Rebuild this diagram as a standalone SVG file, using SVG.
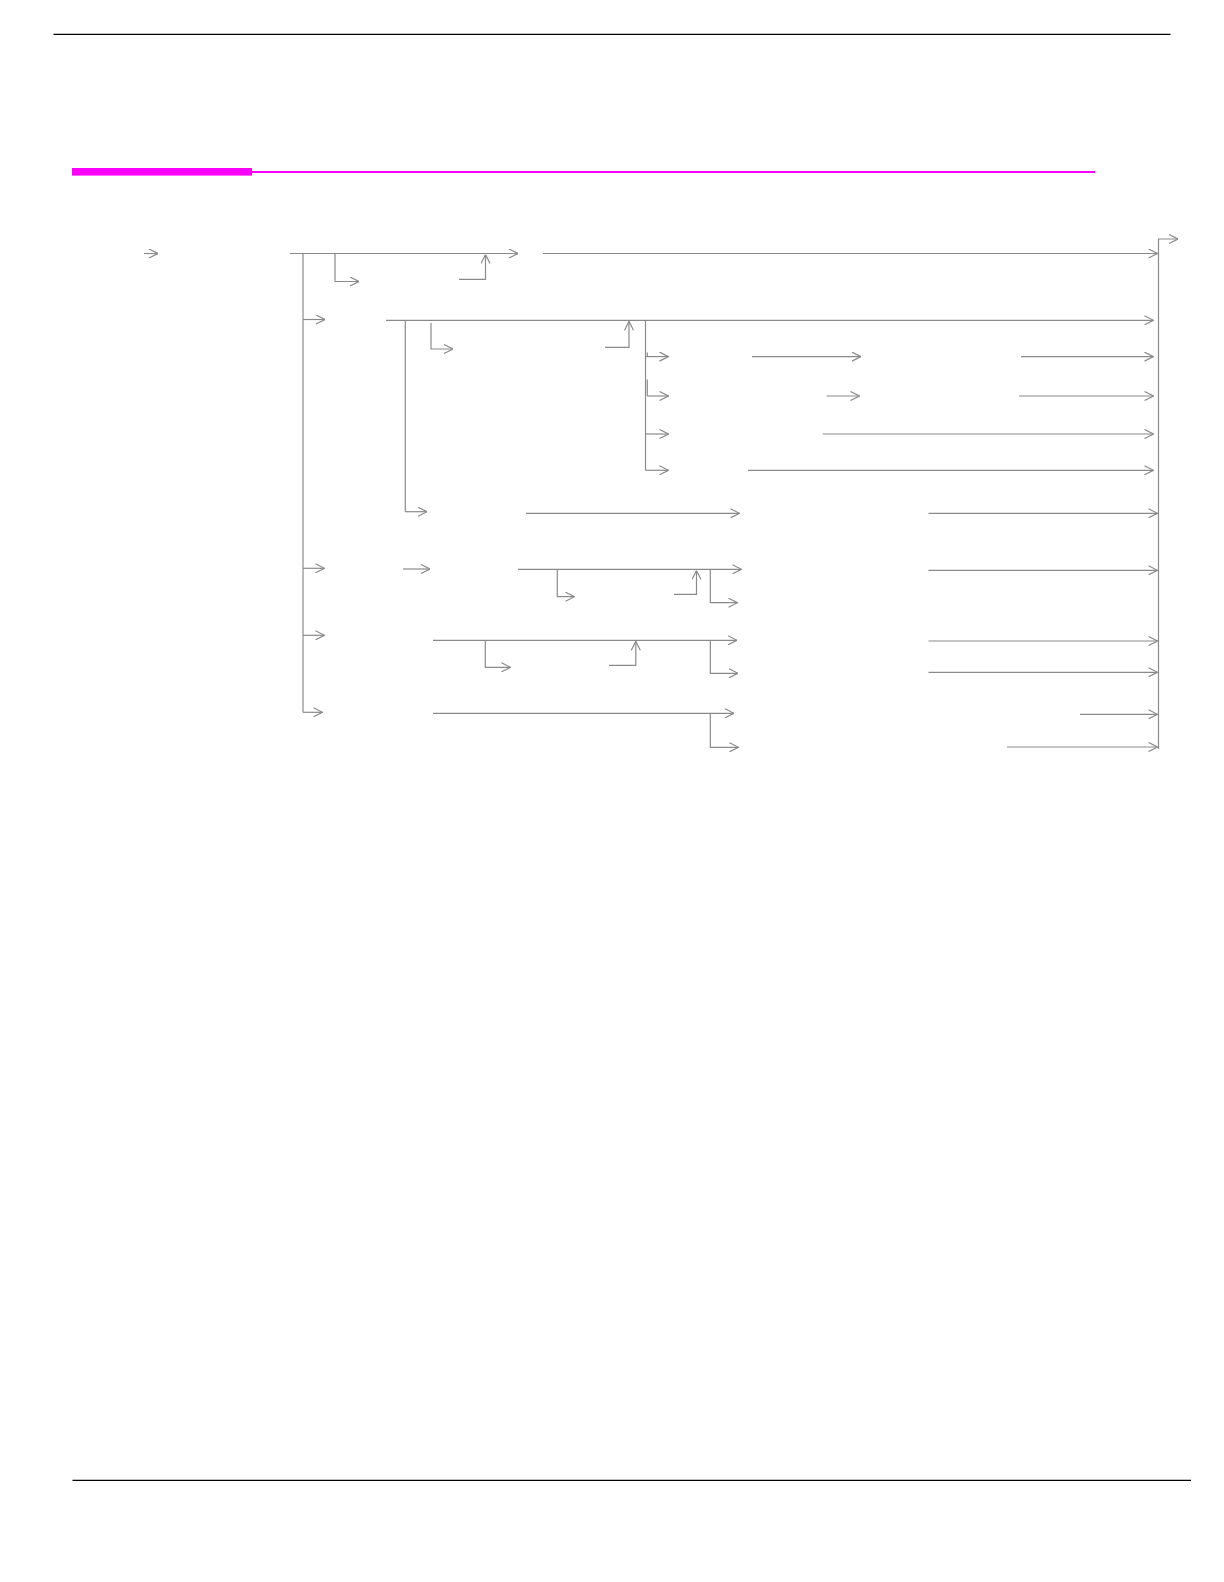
<svg xmlns="http://www.w3.org/2000/svg" width="1224" height="1582" viewBox="0 0 1224 1582">
<style>
.c{stroke:#8a8a8a;stroke-width:1.2;fill:none}
.a{marker-end:url(#ah)}
.rule{stroke:#000;stroke-width:1.3}
</style>
<defs>
<marker id="ah" markerUnits="userSpaceOnUse" viewBox="0 0 10 10" refX="10" refY="5" markerWidth="10" markerHeight="10" orient="auto">
<path d="M1,0.5 L10,5 L1,9.5" fill="none" stroke="#8a8a8a" stroke-width="1.2"/>
</marker>
</defs>
<rect width="1224" height="1582" fill="#fff"/>
<g id="header">
<line class="rule" x1="53.5" y1="34.3" x2="1170.5" y2="34.3"/>
<rect x="72" y="168" width="180" height="7.6" fill="#ff00ff"/>
<line x1="252" y1="172" x2="1095" y2="172" stroke="#ff00ff" stroke-width="2.2"/>
</g>
<g id="footer">
<line class="rule" x1="72.5" y1="1480.3" x2="1191" y2="1480.3"/>
</g>
<g id="connectors">
<!-- row 1 -->
<line class="c a" x1="144" y1="253.5" x2="158" y2="253.5"/>
<line class="c a" x1="290" y1="253.5" x2="518" y2="253.5"/>
<line class="c" x1="303" y1="253.5" x2="303" y2="712.3"/>
<polyline class="c a" points="335,253.5 335,281.5 359,281.5"/>
<polyline class="c a" points="459,279.3 485.5,279.3 485.5,254.5"/>
<line class="c a" x1="543" y1="253.5" x2="1157.5" y2="253.5"/>
<polyline class="c a" points="1158.5,749 1158.5,239 1178,239"/>
<!-- row 2 -->
<line class="c a" x1="303" y1="319.5" x2="325" y2="319.5"/>
<line class="c a" x1="386" y1="320.3" x2="1153.5" y2="320.3"/>
<line class="c" x1="405.3" y1="320.3" x2="405.3" y2="511.7"/>
<polyline class="c a" points="431,323 431,349 453,349"/>
<polyline class="c a" points="605,347.3 629,347.3 629,321.3"/>
<line class="c" x1="645.5" y1="320.3" x2="645.5" y2="470.3"/>
<line class="c" x1="647.3" y1="352.5" x2="647.3" y2="356.6"/>
<line class="c" x1="647.3" y1="379.5" x2="647.3" y2="396"/>
<line class="c a" x1="645.5" y1="356.6" x2="668.5" y2="356.6"/>
<line class="c a" x1="752" y1="356.6" x2="861" y2="356.6"/>
<line class="c a" x1="1021" y1="356.6" x2="1153.5" y2="356.6"/>
<line class="c a" x1="647.3" y1="396" x2="668.5" y2="396"/>
<line class="c a" x1="826.5" y1="396" x2="859.5" y2="396"/>
<line class="c a" x1="1019" y1="396" x2="1153.5" y2="396"/>
<line class="c a" x1="645.5" y1="434" x2="668.5" y2="434"/>
<line class="c a" x1="822.5" y1="434" x2="1153.5" y2="434"/>
<line class="c a" x1="645.5" y1="470.3" x2="668.5" y2="470.3"/>
<line class="c a" x1="748" y1="470.3" x2="1153.5" y2="470.3"/>
<!-- row 3 -->
<polyline class="c a" points="405.3,511.7 427,511.7"/>
<line class="c a" x1="526" y1="513.3" x2="739.5" y2="513.3"/>
<line class="c a" x1="928.5" y1="513.3" x2="1157.5" y2="513.3"/>
<!-- row 4 -->
<line class="c a" x1="303" y1="568.3" x2="324.5" y2="568.3"/>
<line class="c a" x1="403" y1="569" x2="430" y2="569"/>
<line class="c a" x1="518" y1="569.3" x2="741.5" y2="569.3"/>
<polyline class="c a" points="557.3,570 557.3,596.7 574.5,596.7"/>
<polyline class="c a" points="674,594.3 696.5,594.3 696.5,570.5"/>
<polyline class="c a" points="710.3,569.3 710.3,602.7 737.5,602.7"/>
<line class="c a" x1="928.5" y1="570.3" x2="1157.5" y2="570.3"/>
<!-- row 5 -->
<line class="c a" x1="303" y1="635.3" x2="324.5" y2="635.3"/>
<line class="c a" x1="433" y1="640.3" x2="737" y2="640.3"/>
<polyline class="c a" points="485.3,640.3 485.3,667.3 510.5,667.3"/>
<polyline class="c a" points="609,665.3 635.8,665.3 635.8,641.3"/>
<polyline class="c a" points="710.3,640.3 710.3,673.3 738,673.3"/>
<line class="c a" x1="928.5" y1="641" x2="1157.5" y2="641"/>
<line class="c a" x1="928.5" y1="672.3" x2="1157.5" y2="672.3"/>
<!-- row 6 -->
<line class="c a" x1="303" y1="712.3" x2="322.5" y2="712.3"/>
<line class="c a" x1="433" y1="713.3" x2="734" y2="713.3"/>
<polyline class="c a" points="710.3,713.3 710.3,747.3 738.5,747.3"/>
<line class="c a" x1="1080" y1="714.3" x2="1157.5" y2="714.3"/>
<line class="c a" x1="1007" y1="747" x2="1157.5" y2="747"/>
</g>
</svg>
